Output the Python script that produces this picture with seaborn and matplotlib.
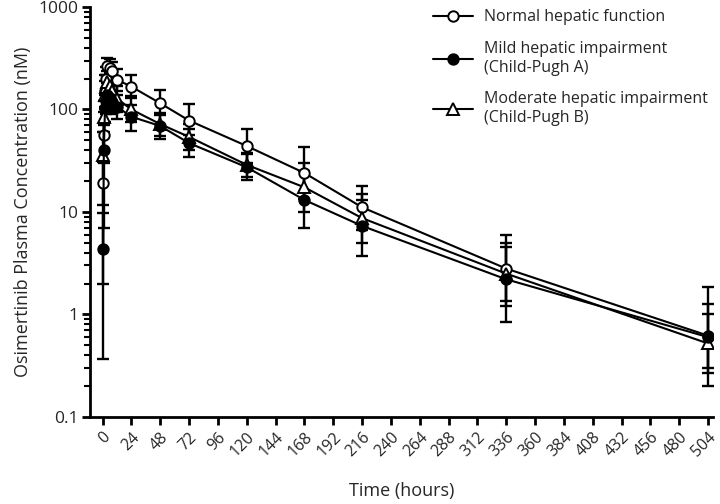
import numpy as np
import pandas as pd
import matplotlib
matplotlib.use("Agg")
import matplotlib.pyplot as plt
from matplotlib.lines import Line2D
from matplotlib.ticker import LogLocator, NullFormatter, FixedLocator, FixedFormatter
import seaborn as sns

# ---------------- data ----------------
time_h = [0.5, 1, 2, 3, 4, 6, 8, 12, 24, 48, 72, 120, 168, 216, 336, 504]

normal_mean = [19, 57, 150, 200, 265, 255, 238, 195, 167, 115, 78, 44, 24, 11.1, 2.8, 0.62]
normal_lo = [2.0, 30, 100, 140, 195, 190, 180, 150, 130, 88, 56, 30, 13.5, 6.6, 1.35, 0.30]
normal_hi = [31, 95, 215, 260, 320, 310, 290, 250, 215, 155, 113, 64, 43, 18, 6.0, 1.85]

mild_mean = [4.3, 40, 103, 120, 138, 130, 118, 106, 85, 69, 47, 27.3, 13.1, 7.3, 2.2, 0.60]
mild_lo = [0.37, 7.0, 75, 90, 100, 95, 90, 80, 62, 52, 34, 20.5, 6.9, 3.7, 0.85, 0.20]
mild_hi = [9.8, 70, 140, 160, 180, 170, 155, 140, 110, 90, 65, 37, 25, 13, 5.0, 1.25]

mod_mean = [36, 85, 140, 165, 185, 170, 150, 128, 100, 72, 54, 28.8, 17.4, 8.7, 2.5, 0.52]
mod_lo = [11.7, 60, 105, 125, 140, 130, 115, 95, 75, 55, 40, 22, 10, 5.0, 1.2, 0.27]
mod_hi = [60, 120, 190, 215, 240, 225, 200, 170, 135, 92, 72, 38, 30, 15, 4.5, 1.0]

group_labels = ["Normal hepatic function",
                "Mild hepatic impairment\n(Child-Pugh A)",
                "Moderate hepatic impairment\n(Child-Pugh B)"]

x_ticks = list(range(0, 505, 24))
y_ticks = [0.1, 1, 10, 100, 1000]
y_tick_labels = ["0.1", "1", "10", "100", "1000"]

# ---------------- style ----------------
sns.set_theme(style="ticks")
plt.rcParams['font.family'] = ['Open Sans', 'DejaVu Sans']

fig = plt.figure(figsize=(7.2, 5.04), dpi=100)
ax = fig.add_axes([0.125, 0.173, 0.865, 0.813])

groups = [
    ("normal", normal_mean, normal_lo, normal_hi, "o", "white", 7.5, group_labels[0]),
    ("moderate", mod_mean, mod_lo, mod_hi, "^", "white", 8.0, group_labels[2]),
    ("mild", mild_mean, mild_lo, mild_hi, "o", "black", 7.5, group_labels[1]),
]

for key, mean, lo, hi, mk, fc, ms, lab in groups:
    df = pd.DataFrame({"time": time_h, "conc": mean})
    mean_a = np.array(mean)
    yerr = np.vstack([mean_a - np.array(lo), np.array(hi) - mean_a])
    ax.errorbar(time_h, mean, yerr=yerr, fmt="none", ecolor="black",
                elinewidth=1.7, capsize=4.2, capthick=1.7, zorder=2)
    sns.lineplot(data=df, x="time", y="conc", ax=ax, color="black",
                 linewidth=1.5, marker=mk, markersize=ms,
                 markerfacecolor=fc, markeredgecolor="black",
                 markeredgewidth=1.4, zorder=3, legend=False)

ax.set_yscale("log")
ax.set_ylim(0.1, 1000)
ax.set_xlim(-10.5, 508)

ax.xaxis.set_major_locator(FixedLocator(x_ticks))
ax.set_xticklabels([str(t) for t in x_ticks], rotation=45, ha="right",
                   rotation_mode="anchor", fontsize=11.5)
ax.yaxis.set_major_locator(FixedLocator(y_ticks))
ax.yaxis.set_major_formatter(FixedFormatter(y_tick_labels))
ax.yaxis.set_minor_locator(LogLocator(base=10, subs=np.arange(2, 10)))
ax.yaxis.set_minor_formatter(NullFormatter())
ax.tick_params(axis="y", labelsize=12.5, pad=2)
ax.tick_params(axis="x", pad=3)

for s in ["top", "right"]:
    ax.spines[s].set_visible(False)
for s in ["left", "bottom"]:
    ax.spines[s].set_linewidth(2.0)
    ax.spines[s].set_color("black")
ax.tick_params(which="major", direction="out", length=6, width=2.0, color="black")
ax.tick_params(which="minor", direction="out", length=4, width=1.5, color="black")

ax.set_xlabel("Time (hours)", fontsize=13, labelpad=16)
ax.set_ylabel("Osimertinib Plasma Concentration (nM)", fontsize=13, labelpad=5)

handles = [
    Line2D([0], [0], color="black", lw=1.5, marker="o", markersize=7.5,
           markerfacecolor="white", markeredgecolor="black", markeredgewidth=1.4),
    Line2D([0], [0], color="black", lw=1.5, marker="o", markersize=7.5,
           markerfacecolor="black", markeredgecolor="black", markeredgewidth=1.4),
    Line2D([0], [0], color="black", lw=1.5, marker="^", markersize=8,
           markerfacecolor="white", markeredgecolor="black", markeredgewidth=1.4),
]
ax.legend(handles, [group_labels[0], group_labels[1], group_labels[2]],
          loc="upper right", bbox_to_anchor=(1.015, 1.03), frameon=False,
          fontsize=11.5, handlelength=2.5, labelspacing=1.0, handletextpad=0.7)

fig.savefig("out.png", dpi=100)
